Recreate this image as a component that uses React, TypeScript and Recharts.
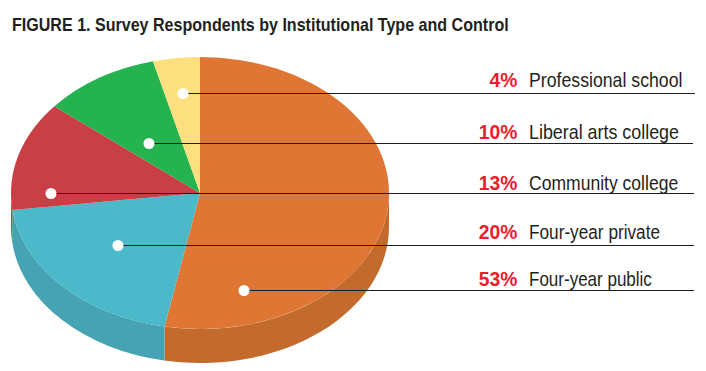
import React from "react";
import { PieChart, Pie, Sector } from "recharts";

const categories = ["Four-year public", "Four-year private", "Community college", "Liberal arts college", "Professional school"];
const shares = [53, 20, 13, 10, 4];
const topColors = ["#E07633", "#4BB9CA", "#C84046", "#25B350", "#FCE080"];
const wallColors = ["#C36A2D", "#45A3B3", "#1C9145", "#1C9145", "#D9C06E"];

// annotation layout
const dotX = [244, 118, 51, 149, 183];
const lineY = [290.5, 245.5, 193.5, 143.5, 93.5];
const labelY = [286, 239, 190, 139, 87];
const lineEnd = [694, 694, 694, 693, 695];
const nameScale = [0.83, 0.84, 0.856, 0.872, 0.864];

const W = 706, H = 371, CX = 200, CY = 193, RX = 189, RY = 136, DEPTH = 34;
const SQUASH = RY / RX;
const FONT = "'Liberation Sans', sans-serif";

const rows = categories.map((name, i) => ({ name, value: shares[i], fill: topColors[i], wall: wallColors[i] }));

function TopSlice(p: any) {
  return (
    <g transform={`translate(0 ${p.cy}) scale(1 ${SQUASH}) translate(0 ${-p.cy})`}>
      <Sector cx={p.cx} cy={p.cy} innerRadius={0} outerRadius={p.outerRadius} startAngle={p.startAngle} endAngle={p.endAngle} fill={p.fill} stroke="none" />
    </g>
  );
}

// Extruded rim: only the part of the slice's arc on the front half of the ellipse
function WallSlice(p: any) {
  const hi = Math.max(p.startAngle, p.endAngle);
  const lo = Math.min(p.startAngle, p.endAngle);
  const from = Math.max(lo, -180);
  const to = Math.min(hi, 0);
  if (to <= from) return <g />;
  const pt = (deg: number) => {
    const a = (deg * Math.PI) / 180;
    return [p.cx + p.outerRadius * Math.cos(a), p.cy - p.outerRadius * SQUASH * Math.sin(a)];
  };
  const [x0, y0] = pt(to);
  const [x1, y1] = pt(from);
  const rx = p.outerRadius, ry = p.outerRadius * SQUASH;
  const large = to - from > 180 ? 1 : 0;
  const d = `M${x0} ${y0} A${rx} ${ry} 0 ${large} 1 ${x1} ${y1} L${x1} ${y1 + DEPTH} A${rx} ${ry} 0 ${large} 0 ${x0} ${y0 + DEPTH} Z`;
  return <path d={d} fill={p.payload?.wall ?? p.wall} stroke="none" />;
}

function Callout(p: any) {
  const i = p.index;
  return (
    <g>
      <line x1={dotX[i]} y1={lineY[i]} x2={lineEnd[i]} y2={lineY[i]} stroke="#1d1d1b" strokeWidth={1} />
      <circle cx={dotX[i]} cy={lineY[i]} r={5.5} fill="#fff" />
      <text transform={`translate(517.5 ${labelY[i]}) scale(0.92 1)`} textAnchor="end" fontFamily={FONT} fontWeight={700} fontSize={21} fill="#ED1C2E">{shares[i]}%</text>
      <text transform={`translate(529 ${labelY[i]}) scale(${nameScale[i]} 1)`} fontFamily={FONT} fontSize={20.5} fill="#231F20">{categories[i]}</text>
    </g>
  );
}

export default function App() {
  return (
    <div style={{ position: "absolute", left: 0, top: 0, width: W, height: H, background: "#fff" }}>
      <PieChart width={W} height={H} margin={{ top: 0, right: 0, bottom: 0, left: 0 }}>
        <Pie data={rows} dataKey="value" nameKey="name" cx={CX} cy={CY} outerRadius={RX} startAngle={90} endAngle={-270} stroke="none" isAnimationActive={false} shape={WallSlice} />
        <Pie data={rows} dataKey="value" nameKey="name" cx={CX} cy={CY} outerRadius={RX} startAngle={90} endAngle={-270} stroke="none" isAnimationActive={false} shape={TopSlice} label={Callout} labelLine={false} />
      </PieChart>
      <div style={{ position: "absolute", left: 12, top: 15, fontFamily: FONT, fontWeight: 700, fontSize: 18.5, color: "#231F20", whiteSpace: "nowrap", lineHeight: "20px", transform: "scaleX(0.868)", transformOrigin: "0 0" }}>
        FIGURE 1. Survey Respondents by Institutional Type and Control
      </div>
    </div>
  );
}
